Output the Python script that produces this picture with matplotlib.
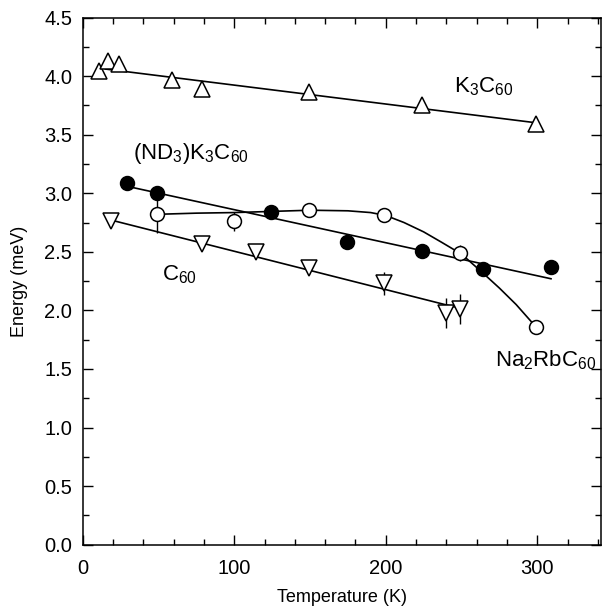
import matplotlib
matplotlib.use("Agg")
import matplotlib.pyplot as plt
from matplotlib.ticker import MultipleLocator

plt.rcParams['font.family'] = ['Liberation Sans', 'DejaVu Sans']
plt.rcParams['mathtext.fontset'] = 'custom'
plt.rcParams['mathtext.rm'] = 'Liberation Sans'
plt.rcParams['mathtext.it'] = 'Liberation Sans'

# K3C60 (open up triangles)
k3_T = [11, 17, 24, 59, 79, 149, 224, 299]
k3_E = [4.04, 4.13, 4.10, 3.97, 3.89, 3.86, 3.75, 3.59]
k3_err = [0.02, 0.04, 0.02, 0.05, 0.05, 0.03, 0.04, 0.02]
k3_fit_T = [15, 300]
k3_fit_E = [4.06, 3.60]

# (ND3)K3C60 (filled circles)
nd_T = [29, 49, 124.5, 174.5, 224, 264, 309]
nd_E = [3.09, 3.00, 2.84, 2.58, 2.51, 2.35, 2.37]
nd_err = [0.05, 0.04, 0.02, 0.02, 0.02, 0.02, 0.02]
nd_fit_T = [29, 309]
nd_fit_E = [3.06, 2.27]

# Na2RbC60 (open circles)
na_T = [49, 100, 149, 199, 249, 299]
na_E = [2.82, 2.76, 2.86, 2.81, 2.49, 1.86]
na_err = [0.16, 0.08, 0.06, 0.03, 0.07, 0.05]
na_curve_T = [49, 75, 100, 125, 150, 175, 190, 200, 212, 225, 237, 250, 264, 275, 286, 299]
na_curve_E = [2.82, 2.83, 2.835, 2.845, 2.855, 2.85, 2.835, 2.81, 2.75, 2.67, 2.58, 2.48, 2.32, 2.19, 2.05, 1.86]

# C60 (open down triangles)
c60_T = [19, 79, 114.5, 149, 199, 240, 249]
c60_E = [2.76, 2.57, 2.50, 2.36, 2.23, 1.98, 2.01]
c60_err = [0.04, 0.02, 0.02, 0.05, 0.10, 0.13, 0.13]
c60_fit_T = [19, 245]
c60_fit_E = [2.77, 2.03]

W, H = 612, 613
L, R, T, B = 82.7, 601, 17.5, 544.7
fig = plt.figure(figsize=(W/100, H/100), dpi=100)
ax = fig.add_axes([L/W, 1-B/H, (R-L)/W, (B-T)/H])

lw = 1.2
ax.plot(k3_fit_T, k3_fit_E, color='black', lw=lw, zorder=2)
ax.plot(nd_fit_T, nd_fit_E, color='black', lw=lw, zorder=2)
ax.plot(na_curve_T, na_curve_E, color='black', lw=lw, zorder=2)
ax.plot(c60_fit_T, c60_fit_E, color='black', lw=lw, zorder=2)

ax.errorbar(k3_T, k3_E, yerr=k3_err, fmt='^', ms=11, mfc='white', mec='black',
            mew=1.1, ecolor='black', elinewidth=1.0, capsize=0, zorder=3)
ax.errorbar(c60_T, c60_E, yerr=c60_err, fmt='v', ms=11, mfc='white', mec='black',
            mew=1.1, ecolor='black', elinewidth=1.0, capsize=0, zorder=3)
ax.errorbar(na_T, na_E, yerr=na_err, fmt='o', ms=10, mfc='white', mec='black',
            mew=1.1, ecolor='black', elinewidth=1.0, capsize=0, zorder=4)
ax.errorbar(nd_T, nd_E, yerr=nd_err, fmt='o', ms=10, mfc='black', mec='black',
            mew=1.1, ecolor='black', elinewidth=1.0, capsize=0, zorder=4)

fs = 16
ax.text(245, 3.86, r'K$_3$C$_{60}$', fontsize=fs, ha='left', va='baseline')
ax.text(33, 3.29, r'(ND$_3$)K$_3$C$_{60}$', fontsize=fs, ha='left', va='baseline')
ax.text(52, 2.26, r'C$_{60}$', fontsize=fs, ha='left', va='baseline')
ax.text(272, 1.52, r'Na$_2$RbC$_{60}$', fontsize=fs, ha='left', va='baseline')

ax.set_xlim(0, 342)
ax.set_ylim(0, 4.5)
ax.xaxis.set_major_locator(MultipleLocator(100))
ax.xaxis.set_minor_locator(MultipleLocator(20))
ax.yaxis.set_major_locator(MultipleLocator(0.5))
ax.yaxis.set_minor_locator(MultipleLocator(0.25))
ax.yaxis.set_major_formatter(plt.FormatStrFormatter('%.1f'))
ax.tick_params(which='both', direction='in', top=True, right=True, labelsize=14.5, width=1.0)
ax.tick_params(which='major', length=7.5)
ax.tick_params(which='minor', length=4)
ax.tick_params(axis='x', pad=10)
ax.tick_params(axis='y', pad=7.5)
for s in ax.spines.values():
    s.set_linewidth(1.1)
ax.set_xlabel('Temperature (K)', fontsize=13)
ax.set_ylabel('Energy (meV)', fontsize=13)
ax.xaxis.set_label_coords(0.5, (B-589)/(B-T))
ax.yaxis.set_label_coords((28-L)/(R-L), 0.5)

fig.savefig('out.png', dpi=100)
